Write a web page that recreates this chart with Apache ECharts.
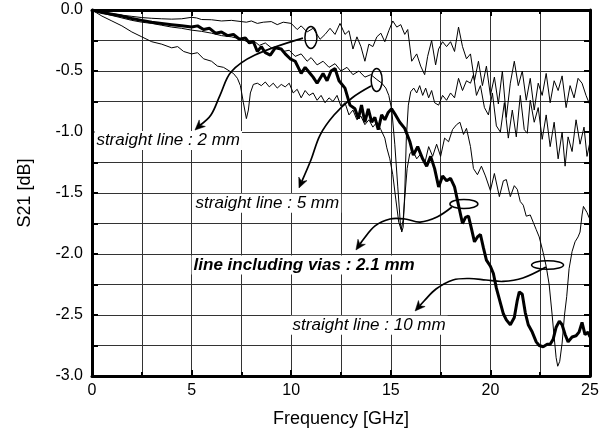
<!DOCTYPE html>
<html>
<head>
<meta charset="utf-8">
<script src="https://cdn.jsdelivr.net/npm/echarts@6/dist/echarts.min.js"></script>
<style>
  html, body { margin: 0; background: #fff; }
  #main { width: 608px; height: 433px; }
</style>
</head>
<body>
<div id="main"></div>
<script>
// measured S21 curves, [frequency GHz, S21 dB]
const line2mm = [
  [0, 0], [0.25, -0.01], [0.5, -0.018], [1, -0.03], [1.5, -0.042], [2, -0.052], [2.5, -0.062],
  [3, -0.068], [3.5, -0.072], [4, -0.075], [4.5, -0.072], [5, -0.06], [5.25, -0.065], [5.5, -0.078],
  [6, -0.08], [6.5, -0.09], [7, -0.085], [7.5, -0.095], [7.75, -0.1], [8, -0.09], [8.3, -0.11],
  [8.6, -0.1], [9, -0.095], [9.3, -0.12], [9.6, -0.1], [10, -0.11], [10.3, -0.16], [10.5, -0.13],
  [10.8, -0.18], [11.1, -0.15], [11.45, -0.24], [11.7, -0.2], [11.95, -0.15], [12.2, -0.2],
  [12.45, -0.11], [12.7, -0.2], [12.9, -0.17], [13.1, -0.32], [13.3, -0.22], [13.5, -0.3],
  [13.7, -0.42], [13.9, -0.28], [14.1, -0.3], [14.3, -0.22], [14.5, -0.19], [14.7, -0.26],
  [14.9, -0.17], [15.1, -0.09], [15.3, -0.14], [15.5, -0.12], [15.7, -0.2], [15.85, -0.16],
  [16.05, -0.42], [16.3, -0.36], [16.5, -0.46], [16.7, -0.53], [16.85, -0.38], [17.05, -0.25],
  [17.25, -0.45], [17.4, -0.32], [17.6, -0.26], [17.8, -0.3], [18.0, -0.26], [18.2, -0.34],
  [18.4, -0.14], [18.6, -0.3], [18.8, -0.4], [19.0, -0.36], [19.2, -0.58], [19.4, -0.42],
  [19.6, -0.62], [19.8, -0.46], [20.0, -0.7], [20.2, -0.55], [20.4, -0.77], [20.6, -0.5],
  [20.8, -0.88], [21.0, -0.6], [21.2, -0.42], [21.4, -0.62], [21.6, -0.5], [21.8, -0.74],
  [22.0, -0.56], [22.2, -0.82], [22.4, -0.6], [22.6, -0.7], [22.8, -0.52], [23.0, -0.76],
  [23.2, -0.58], [23.4, -0.66], [23.6, -0.54], [23.8, -0.8], [24.0, -0.62], [24.2, -0.72],
  [24.4, -0.56], [24.6, -0.6], [24.8, -0.7], [25.0, -0.78]
];
const line5mm = [
  [0, 0], [0.5, -0.025], [1, -0.045], [1.5, -0.065], [2, -0.085], [2.5, -0.1], [3, -0.11],
  [3.5, -0.125], [4, -0.14], [4.5, -0.15], [5, -0.165], [5.5, -0.175], [6, -0.19], [6.5, -0.21],
  [7, -0.22], [7.5, -0.24], [7.8, -0.26], [8.1, -0.25], [8.4, -0.29], [8.7, -0.27], [9.0, -0.31],
  [9.3, -0.3], [9.6, -0.34], [9.9, -0.33], [10.2, -0.38], [10.5, -0.36], [10.8, -0.42], [11.0, -0.39],
  [11.3, -0.45], [11.6, -0.42], [11.9, -0.47], [12.2, -0.44], [12.5, -0.5], [12.8, -0.47],
  [13.1, -0.53], [13.4, -0.5], [13.7, -0.55], [14.0, -0.53], [14.3, -0.57], [14.55, -0.6],
  [14.75, -0.64], [14.9, -0.7], [15.05, -0.82], [15.2, -1.1], [15.35, -1.45], [15.48, -1.75],
  [15.55, -1.82], [15.62, -1.78], [15.7, -1.5], [15.78, -1.05], [15.88, -0.78], [16.0, -0.67],
  [16.15, -0.64], [16.3, -0.68], [16.45, -0.62], [16.6, -0.7], [16.75, -0.64], [16.9, -0.72],
  [17.05, -0.66], [17.2, -0.76], [17.4, -0.78], [17.6, -0.7], [17.8, -0.74], [18.0, -0.68],
  [18.2, -0.72], [18.4, -0.56], [18.6, -0.66], [18.8, -0.58], [19.0, -0.6], [19.15, -0.53],
  [19.3, -0.7], [19.5, -0.62], [19.7, -0.8], [19.9, -0.86], [20.1, -0.68], [20.3, -0.95],
  [20.5, -1.0], [20.7, -0.76], [20.9, -1.05], [21.1, -0.82], [21.3, -1.04], [21.5, -0.7],
  [21.7, -0.98], [21.85, -1.01], [22.0, -0.74], [22.2, -0.92], [22.4, -0.8], [22.6, -1.06],
  [22.8, -0.86], [23.0, -1.12], [23.2, -0.92], [23.4, -1.22], [23.6, -1.0], [23.75, -1.28],
  [23.9, -1.04], [24.1, -1.16], [24.3, -0.9], [24.5, -1.1], [24.7, -0.96], [24.85, -1.2],
  [25.0, -1.08]
];
const lineVias = [
  [0, 0], [0.5, -0.02], [1, -0.035], [1.5, -0.05], [2, -0.07], [2.5, -0.085], [3, -0.1],
  [3.5, -0.11], [4, -0.12], [4.5, -0.13], [5, -0.14], [5.3, -0.13], [5.6, -0.16], [5.9, -0.15],
  [6.2, -0.19], [6.5, -0.18], [6.8, -0.21], [7.1, -0.2], [7.4, -0.24], [7.7, -0.23], [7.9, -0.27],
  [8.1, -0.26], [8.3, -0.34], [8.5, -0.3], [8.7, -0.35], [8.95, -0.37], [9.2, -0.31], [9.5, -0.32],
  [9.7, -0.36], [9.95, -0.4], [10.2, -0.42], [10.5, -0.52], [10.7, -0.47], [10.9, -0.51],
  [11.1, -0.55], [11.3, -0.6], [11.6, -0.52], [11.8, -0.58], [12.0, -0.5], [12.2, -0.48],
  [12.4, -0.58], [12.7, -0.64], [12.95, -0.78], [13.2, -0.81], [13.37, -0.89], [13.53, -0.78],
  [13.7, -0.92], [13.87, -0.81], [14.04, -0.92], [14.2, -0.88], [14.37, -0.98], [14.54, -0.86],
  [14.7, -0.9], [14.87, -0.84], [15.04, -0.81], [15.2, -0.85], [15.45, -0.92], [15.7, -0.97],
  [15.96, -1.08], [16.13, -1.19], [16.35, -1.12], [16.6, -1.22], [16.8, -1.28], [17.0, -1.2],
  [17.2, -1.3], [17.4, -1.45], [17.6, -1.36], [17.8, -1.4], [18.0, -1.38], [18.2, -1.45],
  [18.4, -1.6], [18.6, -1.75], [18.75, -1.7], [18.9, -1.69], [19.06, -1.8], [19.2, -1.9],
  [19.35, -1.86], [19.5, -1.84], [19.65, -1.95], [19.8, -2.05], [20.0, -2.1], [20.15, -2.16],
  [20.3, -2.28], [20.5, -2.4], [20.65, -2.49], [20.8, -2.54], [21.0, -2.58], [21.2, -2.52],
  [21.35, -2.38], [21.45, -2.31], [21.6, -2.33], [21.75, -2.48], [21.9, -2.58], [22.1, -2.64],
  [22.3, -2.72], [22.45, -2.75], [22.65, -2.76], [22.85, -2.74], [23.0, -2.74], [23.15, -2.7],
  [23.3, -2.6], [23.46, -2.55], [23.6, -2.58], [23.75, -2.66], [23.9, -2.72], [24.1, -2.68],
  [24.3, -2.67], [24.45, -2.64], [24.6, -2.56], [24.75, -2.66], [24.9, -2.64], [25.0, -2.68]
];
const line10mm = [
  [0, 0], [0.25, -0.025], [0.5, -0.05], [1, -0.09], [1.5, -0.13], [2, -0.18], [2.5, -0.22],
  [3, -0.26], [3.5, -0.28], [4, -0.31], [4.3, -0.3], [4.6, -0.34], [5, -0.36], [5.3, -0.35],
  [5.6, -0.4], [6.0, -0.42], [6.3, -0.46], [6.6, -0.47], [6.9, -0.5], [7.1, -0.52], [7.3, -0.56],
  [7.45, -0.62], [7.6, -0.76], [7.75, -0.89], [7.85, -0.82], [7.95, -0.68], [8.1, -0.61],
  [8.3, -0.6], [8.5, -0.62], [8.7, -0.59], [8.9, -0.63], [9.1, -0.6], [9.3, -0.64], [9.5, -0.61],
  [9.7, -0.63], [9.9, -0.6], [10.1, -0.68], [10.3, -0.65], [10.5, -0.72], [10.7, -0.66],
  [10.9, -0.7], [11.1, -0.68], [11.3, -0.74], [11.5, -0.7], [11.7, -0.76], [11.9, -0.72],
  [12.1, -0.75], [12.3, -0.7], [12.5, -0.79], [12.7, -0.76], [12.9, -0.86], [13.1, -0.82],
  [13.3, -0.9], [13.5, -0.87], [13.7, -0.94], [13.9, -0.9], [14.1, -0.96], [14.3, -0.92],
  [14.5, -0.98], [14.7, -1.05], [14.8, -1.13], [14.95, -1.22], [15.1, -1.35], [15.25, -1.55],
  [15.4, -1.74], [15.52, -1.8], [15.62, -1.72], [15.72, -1.5], [15.82, -1.3], [15.95, -1.18],
  [16.1, -1.15], [16.3, -1.22], [16.5, -1.18], [16.7, -1.26], [16.9, -1.12], [17.1, -1.2],
  [17.3, -1.1], [17.5, -1.2], [17.7, -1.05], [17.9, -1.08], [18.1, -0.98], [18.3, -0.94],
  [18.47, -0.92], [18.65, -1.02], [18.8, -0.97], [19.0, -1.12], [19.15, -1.3], [19.35, -1.35],
  [19.55, -1.28], [19.75, -1.36], [20.0, -1.48], [20.2, -1.34], [20.45, -1.53], [20.65, -1.4],
  [20.8, -1.39], [21.0, -1.53], [21.2, -1.44], [21.35, -1.47], [21.5, -1.57], [21.65, -1.6],
  [21.8, -1.69], [22.0, -1.68], [22.15, -1.74], [22.3, -1.8], [22.45, -1.86], [22.65, -1.99],
  [22.8, -2.1], [22.95, -2.25], [23.1, -2.5], [23.2, -2.68], [23.3, -2.85], [23.38, -2.92],
  [23.48, -2.88], [23.6, -2.73], [23.72, -2.5], [23.83, -2.35], [23.95, -2.12], [24.1, -1.98],
  [24.25, -1.9], [24.4, -1.86], [24.5, -1.82], [24.6, -1.68], [24.67, -1.61], [24.75, -1.6],
  [24.85, -1.66], [24.95, -1.7], [25.0, -1.72]
];

// labels, loops and arrows in data coordinates
const labelTexts = ['straight line : 2 mm', 'straight line : 5 mm', 'line including vias : 2.1 mm', 'straight line : 10 mm'];
const labelAt = [[0.12, -1.07], [5.1, -1.585], [5.0, -2.09], [9.97, -2.585]];
const loopAt = [[10.99, -0.225], [14.29, -0.574], [18.67, -1.59], [22.87, -2.09]];
const arrowPaths = [
  [[10.59, -0.23], [8.18, -0.369], [6.98, -0.508], [6.43, -0.697], [5.97, -0.861], [5.17, -0.984]],
  [[14.01, -0.623], [13.05, -0.721], [12.15, -0.861], [11.45, -1.025], [10.99, -1.23], [10.39, -1.459]],
  [[18.07, -1.615], [17.32, -1.697], [16.47, -1.738], [15.71, -1.713], [14.96, -1.713], [14.21, -1.77], [13.6, -1.885], [13.25, -1.967]],
  [[22.79, -2.107], [21.63, -2.197], [20.63, -2.225], [19.78, -2.213], [18.94, -2.201], [18.12, -2.213], [17.27, -2.287], [16.67, -2.385], [16.22, -2.467]]
];

const font = '"Liberation Sans", Arial, sans-serif';
const myChart = echarts.init(document.getElementById('main'));

const gridLine = { show: true, lineStyle: { color: '#333', width: 1 } };
function xAx(pos, labels) {
  return {
    type: 'value', position: pos, min: 0, max: 25, interval: 5,
    name: labels ? 'Frequency [GHz]' : '', nameLocation: 'middle', nameGap: 34,
    nameTextStyle: { fontFamily: font, fontSize: 18, color: '#000' },
    axisLine: { show: true, onZero: false, lineStyle: { color: '#000', width: 3 } },
    axisTick: { show: true, inside: true, length: 6, lineStyle: { color: '#000', width: 2 } },
    minorTick: { show: true, splitNumber: 2, length: 4, lineStyle: { color: '#000', width: 2 } },
    axisLabel: { show: labels, fontFamily: font, fontSize: 16, color: '#000', margin: 7 },
    splitLine: labels ? gridLine : { show: false },
    minorSplitLine: labels ? gridLine : { show: false }
  };
}
function yAx(pos, labels) {
  return {
    type: 'value', position: pos, min: -3, max: 0, interval: 0.5,
    name: labels ? 'S21 [dB]' : '', nameLocation: 'middle', nameGap: 58,
    nameTextStyle: { fontFamily: font, fontSize: 18, color: '#000' },
    axisLine: { show: true, onZero: false, lineStyle: { color: '#000', width: 3 } },
    axisTick: { show: true, inside: true, length: 6, lineStyle: { color: '#000', width: 2 } },
    minorTick: { show: true, splitNumber: 2, length: 6, lineStyle: { color: '#000', width: 2 } },
    axisLabel: { show: labels, fontFamily: font, fontSize: 16, color: '#000', margin: 9,
      formatter: v => v.toFixed(1) },
    splitLine: labels ? gridLine : { show: false },
    minorSplitLine: labels ? gridLine : { show: false }
  };
}
function curve(data, w, z) {
  return {
    type: 'line', data: data, showSymbol: false, symbol: 'none', z: z,
    lineStyle: { color: '#000', width: w }, silent: true
  };
}

myChart.setOption({
  animation: false,
  backgroundColor: '#fff',
  grid: { left: 92, right: 18, top: 10, bottom: 57 },
  xAxis: [xAx('bottom', true), xAx('top', false)],
  yAxis: [yAx('left', true), yAx('right', false)],
  series: [
    curve(line2mm, 1, 3),
    curve(line5mm, 1, 3),
    curve(line10mm, 1, 3),
    curve(lineVias, 3, 4)
  ]
});

// annotations drawn after the axes exist
const toPx = p => myChart.convertToPixel({ gridIndex: 0 }, p);
const loopSize = [[6, 11], [5.5, 11.5], [14, 4.5], [16, 4.3]];
const graphics = [];
labelTexts.forEach((t, i) => {
  const p = toPx(labelAt[i]);
  graphics.push({
    type: 'text', x: p[0], y: p[1], z: 100,
    style: {
      text: t, fill: '#000', backgroundColor: '#fff', padding: [1, 2],
      font: (i === 2 ? 'italic bold ' : 'italic ') + '17px ' + font,
      textAlign: 'left', textVerticalAlign: 'middle', verticalAlign: 'middle'
    }
  });
});
loopAt.forEach((c, i) => {
  const p = toPx(c);
  graphics.push({
    type: 'ellipse', z: 101,
    shape: { cx: p[0], cy: p[1], rx: loopSize[i][0], ry: loopSize[i][1] },
    style: { stroke: '#000', fill: null, lineWidth: 1.5 }
  });
});
arrowPaths.forEach(path => {
  const pts = path.map(toPx);
  const n = pts.length;
  const tip = pts[n - 1], prev = pts[n - 2];
  const a = Math.atan2(tip[1] - prev[1], tip[0] - prev[0]);
  const ca = Math.cos(a), sa = Math.sin(a);
  const L = 10, W = 4.5;
  const back = [tip[0] - L * ca, tip[1] - L * sa];
  const notch = [tip[0] - 0.7 * L * ca, tip[1] - 0.7 * L * sa];
  graphics.push({
    type: 'polyline', z: 101,
    shape: { points: pts.slice(0, n - 1).concat([notch]), smooth: 0.35 },
    style: { stroke: '#000', fill: null, lineWidth: 1.7 }
  });
  graphics.push({
    type: 'polygon', z: 102,
    shape: { points: [tip, [back[0] + W * sa, back[1] - W * ca], notch, [back[0] - W * sa, back[1] + W * ca]] },
    style: { fill: '#000', stroke: '#000', lineWidth: 0.5 }
  });
});
myChart.setOption({ graphic: graphics });
</script>
</body>
</html>
